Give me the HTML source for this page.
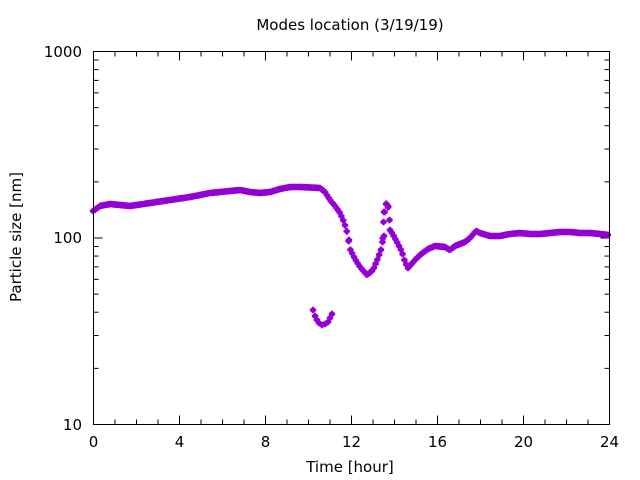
<!DOCTYPE html>
<html><head><meta charset="utf-8"><style>body{margin:0;background:#fff}svg{display:block}text{font-family:"DejaVu Sans","Liberation Sans",sans-serif;fill:#000}</style></head>
<body>
<svg id="s" width="640" height="480" xmlns="http://www.w3.org/2000/svg">
<rect x="0" y="0" width="640" height="480" fill="#fff"/>
<g id="ticks" stroke="#000" stroke-width="1" fill="none"></g>
<g id="pts" fill="#9400d3"></g>
<rect x="93.5" y="51.5" width="516" height="373" fill="none" stroke="#000"/>
<text x="350" y="30" font-size="15" text-anchor="middle">Modes location (3/19/19)</text>
<text x="350" y="472" font-size="15" text-anchor="middle">Time [hour]</text>
<text transform="translate(21,237) rotate(-90)" font-size="15" text-anchor="middle">Particle size [nm]</text>
<text x="82" y="57" font-size="15" text-anchor="end">1000</text>
<text x="82" y="243" font-size="15" text-anchor="end">100</text>
<text x="82" y="430" font-size="15" text-anchor="end">10</text>
<g id="xl" font-size="15" text-anchor="middle"></g>
</svg>
<script>
var NS="http://www.w3.org/2000/svg";
function el(p,t,a){var e=document.createElementNS(NS,t);for(var k in a)e.setAttribute(k,a[k]);document.getElementById(p).appendChild(e);return e;}
var X0=93.5,W=516,Y0=51.5,H=373;
for(var h=0;h<=24;h++){var x=X0+h*W/24,l=(h%4==0)?9:5;
 if(h>0&&h<24){el("ticks","line",{x1:x,y1:Y0+H,x2:x,y2:Y0+H-l});el("ticks","line",{x1:x,y1:Y0,x2:x,y2:Y0+l});}
 if(h%4==0){var t=el("xl","text",{x:x,y:447});t.textContent=h;}}
for(var d=0;d<2;d++)for(var m=1;m<=10;m++){if(d==1&&m==10)continue;var y=Y0+H-(d+Math.log10(m))*H/2;var l=(m==1||m==10)?9:5;
 if(y<=Y0+0.1||y>=Y0+H-0.1)continue;el("ticks","line",{x1:X0,y1:y,x2:X0+l,y2:y});el("ticks","line",{x1:X0+W,y1:y,x2:X0+W-l,y2:y});}
var A=[[93,211],[100,206],[110,204],[130,206],[150,203],[170,200],[190,197],[210,193],[230,191],[240,190],[250,192],[260,193],[270,192],[280,189],[290,187],[300,187],[320,188],[325,192],[330,200],[335,206],[340,213],[344,222],[347,232],[350,249],[355,259],[360,267],[367,275],[373,270],[378,258],[382,247],[383,236],[385,206],[387,203],[389,210],[390,230],[392,233],[397,242],[402,252],[405,262],[408,268],[415,260],[420,255],[428,249],[435,246],[445,247],[450,250],[455,246],[465,242],[470,238],[476,231],[480,233],[490,236],[500,236],[510,234],[520,233],[530,234],[540,234],[550,233],[560,232],[570,232],[580,233],[590,233],[600,234],[609,235]];
function dot(x,y){el("pts","path",{d:"M"+(x-1.2)+","+(y-3.3)+"h2.4v1.3h1v0.8h1v2.4h-1v0.8h-1v1.3h-2.4v-1.3h-1v-0.8h-1v-2.4h1v-0.8h1z"});}
var step=1.8;
function yAt(x){for(var i=0;i<A.length-1;i++){var a=A[i],b=A[i+1];if(x>=a[0]&&x<=b[0]){return a[1]+(b[1]-a[1])*(x-a[0])/(b[0]-a[0]);}}return A[A.length-1][1];}
for(var x=93;x<=609.5;x+=step){dot(x,yAt(x));}
[[349,240],[383.5,222],[384,212],[386,204],[388,206],[389.5,220],[384,236],[382.5,242]].forEach(function(p){dot(p[0],p[1]);});
var B=[[313,310],[315,316],[317,320],[319,323],[322,325],[325,324],[328,322],[330,318],[332,314]];
B.forEach(function(p){dot(p[0],p[1]);});
</script>
</body></html>
